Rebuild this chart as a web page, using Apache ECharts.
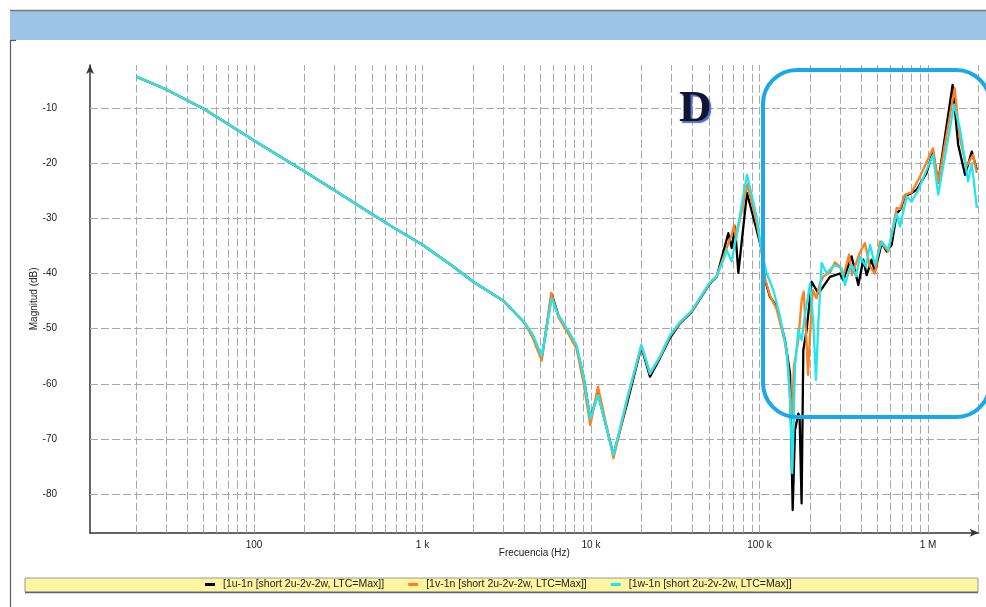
<!DOCTYPE html>
<html>
<head>
<meta charset="utf-8">
<script src="https://cdn.jsdelivr.net/npm/echarts@6/dist/echarts.min.js"></script>
<style>
  html, body { margin: 0; padding: 0; background: #ffffff; }
  #chart { width: 986px; height: 607px; }
</style>
</head>
<body>
<div id="chart"></div>
<script>
// Frequency response magnitude of the three windings (dB vs Hz)
const seriesNames = [
  '[1u-1n [short 2u-2v-2w, LTC=Max]]',
  '[1v-1n [short 2u-2v-2w, LTC=Max]]',
  '[1w-1n [short 2u-2v-2w, LTC=Max]]'
];
const seriesColors = ['#000000', '#ff7f1e', '#22e6ee'];

// Low-frequency part, common to all three traces
const lowFreq = [20, 30, 40, 50, 70, 100, 150, 200, 300, 500, 700, 1000, 1500, 2000, 3000, 4000];
const lowMag  = [-4.3, -6.6, -8.6, -10.1, -12.9, -15.9, -19.2, -21.5, -24.9, -29.2, -32.0, -34.8, -38.6, -41.5, -44.9, -48.8];

// 1u-1n
const freqU = [4500, 5100, 5850, 6400, 7200, 8200, 9000, 9900, 11000, 13600,
  16300, 19900, 22400, 25700, 29400, 33800, 39500, 50800, 55700, 62400,
  65300, 68400, 71600, 74900, 84300, 96200, 103000, 107900, 115400, 126500,
  141700, 151800, 157400, 162500, 170000, 173000, 177800, 182000, 190500, 204000,
  223500, 239000, 262000, 300000, 314000, 352000, 386000, 413000, 433000, 463000,
  484000, 531000, 569000, 609000, 652000, 682000, 731000, 800000, 857000, 980000,
  1070000, 1150000, 1400000, 1510000, 1660000, 1820000, 1950000];
const magU = [-51.2, -55.3, -43.8, -47.6, -50.2, -53.3, -58.5, -66.3, -61.8, -72.9,
  -63.8, -53.3, -58.7, -55.3, -51.7, -49.0, -47.0, -41.8, -40.6, -35.0,
  -32.7, -35.4, -31.5, -39.9, -25.4, -32.1, -35.7, -41.2, -44.2, -46.0,
  -52.1, -58.1, -82.9, -68.4, -65.4, -66.0, -81.7, -53.9, -50.2, -41.5,
  -43.6, -42.4, -40.6, -40.0, -41.2, -36.9, -42.1, -37.5, -40.3, -37.5,
  -39.7, -34.5, -36.0, -34.8, -29.1, -28.5, -26.0, -25.4, -24.8, -21.8,
  -17.9, -23.5, -5.8, -16.6, -22.1, -17.9, -21.2];

// 1v-1n
const freqV = [4500, 5100, 5800, 6400, 7200, 8200, 9000, 9900, 11000, 13600,
  16300, 19900, 22400, 25700, 29400, 33800, 39500, 50800, 55700, 62400,
  65300, 68400, 70800, 72500, 75500, 84800, 96200, 103000, 108000, 115400,
  126500, 141700, 148000, 153000, 156000, 160000, 170000, 178000, 183000, 190000,
  194000, 199000, 207000, 218000, 228000, 240000, 262000, 280000, 300000, 314000,
  340000, 354000, 393000, 423000, 452000, 484000, 519000, 582000, 652000, 682000,
  731000, 800000, 897000, 1070000, 1150000, 1440000, 1540000, 1690000, 1850000, 1950000];
const magV = [-51.6, -55.8, -43.5, -47.9, -50.5, -53.6, -59.6, -67.5, -60.5, -73.5,
  -63.2, -53.0, -58.2, -55.1, -51.4, -48.9, -46.9, -41.7, -40.5, -36.2,
  -34.6, -33.0, -31.2, -33.8, -31.0, -23.8, -30.8, -36.0, -41.0, -44.0,
  -46.5, -52.5, -56.9, -64.2, -66.0, -56.9, -52.1, -44.8, -43.3, -52.1,
  -58.4, -52.0, -43.0, -44.5, -41.8, -40.5, -39.8, -38.0, -38.7, -40.5,
  -36.6, -40.3, -36.3, -34.5, -38.7, -40.0, -34.2, -36.0, -28.1, -28.3,
  -25.7, -25.3, -22.4, -17.3, -23.5, -6.4, -15.2, -20.6, -18.5, -21.8];

// 1w-1n
const freqW = [4500, 5100, 5850, 6400, 7200, 8200, 9000, 9900, 11000, 13600,
  16300, 19900, 22400, 25700, 29400, 33800, 39500, 50800, 55700, 62400,
  63700, 68400, 71600, 84300, 96200, 103000, 110400, 120800, 132400, 145000,
  151800, 156600, 162500, 170000, 178000, 185000, 199500, 208800, 216300, 223500,
  233900, 250500, 262000, 280000, 307000, 321000, 340000, 354000, 374000, 395000,
  428000, 453000, 484000, 531000, 581000, 652000, 682000, 748000, 800000, 877000,
  1070000, 1150000, 1430000, 1550000, 1730000, 1820000, 1950000];
const magW = [-51.0, -55.0, -44.5, -47.6, -50.0, -53.0, -58.3, -66.3, -62.0, -72.9,
  -62.9, -53.0, -58.1, -55.0, -51.2, -48.8, -46.8, -41.6, -40.5, -36.8,
  -35.7, -37.8, -34.5, -22.1, -29.7, -36.0, -40.0, -43.0, -47.8, -53.9,
  -62.9, -76.2, -56.9, -50.2, -52.1, -48.0, -41.8, -49.0, -59.3, -49.0,
  -38.1, -40.0, -39.3, -38.5, -39.0, -42.1, -39.5, -38.5, -40.5, -37.0,
  -38.7, -34.8, -38.4, -34.2, -35.7, -29.1, -31.5, -26.0, -27.0, -24.8,
  -18.5, -25.7, -9.4, -13.9, -23.3, -20.0, -28.1];

// Axis ticks
const yTicks = [-80, -70, -60, -50, -40, -30, -20, -10];
const xDecadeLabels = { 2: '100', 3: '1 k', 4: '10 k', 5: '100 k', 6: '1 M' };

function pairs(f, m) {
  const xs = lowFreq.concat(f);
  const ys = lowMag.concat(m);
  return xs.map((x, i) => [x, ys[i]]);
}

// vertical grid at 2..9 x 10^n inside the plotted band
const xGrid = [];
for (let e = 1; e <= 6; e++) {
  for (let k = 1; k <= 9; k++) {
    const v = k * Math.pow(10, e);
    if (v >= 20 && v <= 2e6) xGrid.push(v);
  }
}

const gridLineStyle = { color: '#a8a8a8', width: 1, type: [8, 3] };
const labelFont = { fontFamily: 'Liberation Sans, Arial, sans-serif', fontSize: 10, color: '#222222' };

const chart = echarts.init(document.getElementById('chart'), null, { renderer: 'canvas' });

const dataSeries = [[freqU, magU], [freqV, magV], [freqW, magW]].map((d, i) => ({
  name: seriesNames[i],
  type: 'line',
  data: pairs(d[0], d[1]),
  showSymbol: false,
  symbol: 'none',
  color: seriesColors[i],
  lineStyle: { width: 2.3, color: seriesColors[i], join: 'round' },
  z: 2 + i,
  silent: true
}));

chart.setOption({
  animation: false,
  backgroundColor: '#ffffff',
  grid: { left: 90, right: 7.3, top: 65, bottom: 74.3, containLabel: false },
  legend: {
    data: seriesNames,
    left: 205,
    top: 579,
    padding: 0,
    icon: 'rect',
    itemWidth: 10,
    itemHeight: 3,
    itemGap: 24,
    textStyle: { fontFamily: 'Liberation Sans, Arial, sans-serif', fontSize: 10.5, color: '#222222', padding: [0, 0, 0, 3] }
  },
  xAxis: {
    type: 'log',
    logBase: 10,
    min: 10.63,
    max: 2e6,
    name: 'Frecuencia (Hz)',
    nameLocation: 'middle',
    nameGap: 16,
    nameMoveOverlap: false,
    nameTextStyle: labelFont,
    axisLine: { show: true, lineStyle: { color: '#333333', width: 1.5 }, symbol: ['none', 'arrow'], symbolSize: [6, 9] },
    axisTick: { show: false },
    splitLine: { show: false },
    minorSplitLine: { show: false },
    axisLabel: Object.assign({
      margin: 8,
      showMinLabel: false,
      showMaxLabel: false,
      formatter: function (v) {
        const e = Math.log10(v);
        const r = Math.round(e);
        if (Math.abs(e - r) > 1e-6) return '';
        return xDecadeLabels[r] || '';
      }
    }, labelFont)
  },
  yAxis: {
    type: 'value',
    min: -87,
    max: -2.2,
    name: 'Magnitud (dB)',
    nameLocation: 'middle',
    nameGap: 51,
    nameRotate: 90,
    nameMoveOverlap: false,
    nameTextStyle: labelFont,
    axisLine: { show: true, lineStyle: { color: '#333333', width: 1.5 }, symbol: ['none', 'arrow'], symbolSize: [6, 9] },
    axisTick: { show: false, customValues: yTicks },
    splitLine: { show: false },
    axisLabel: Object.assign({ margin: 33, customValues: yTicks }, labelFont)
  },
  series: [{
    name: 'grid',
    type: 'line',
    data: [],
    silent: true,
    z: 0,
    markLine: {
      silent: true,
      z: 1,
      symbol: ['none', 'none'],
      animation: false,
      label: { show: false },
      lineStyle: gridLineStyle,
      emphasis: { disabled: true },
      data: xGrid.map(v => ({ xAxis: v })).concat(yTicks.map(v => ({ yAxis: v })))
    }
  }].concat(dataSeries),
  graphic: [
    // title band
    { type: 'rect', z: 50, shape: { x: 10, y: 11, width: 976, height: 29 }, style: { fill: '#9dc3e6' } },
    { type: 'line', z: 51, shape: { x1: 10, y1: 10.5, x2: 986, y2: 10.5 }, style: { stroke: '#7a7a7a', lineWidth: 1.5 } },
    { type: 'line', z: 51, shape: { x1: 10.5, y1: 40, x2: 10.5, y2: 607 }, style: { stroke: '#5a5a5a', lineWidth: 1.2 } },
    { type: 'line', z: 51, shape: { x1: 10, y1: 40.5, x2: 16, y2: 40.5 }, style: { stroke: '#5a5a5a', lineWidth: 1.2 } },
    // legend band
    { type: 'rect', z: -10, shape: { x: 25, y: 578, width: 953, height: 14 }, style: { fill: '#fdf59f', stroke: '#9a9a9a', lineWidth: 1 } },
    { type: 'line', z: -9, shape: { x1: 25, y1: 592.5, x2: 978, y2: 592.5 }, style: { stroke: '#666666', lineWidth: 1.5 } },
    // highlighted high-frequency region
    { type: 'rect', z: 100, shape: { x: 763, y: 70, width: 227, height: 347, r: 34 }, style: { fill: 'none', stroke: '#1aa8e8', lineWidth: 4 } },
    // panel letter
    { type: 'text', z: 100, left: 679, top: 87, style: {
        text: 'D', fill: '#14142e',
        font: 'bold 45px "Liberation Serif", "DejaVu Serif", serif',
        textShadowColor: '#4a6fc8', textShadowOffsetX: 2, textShadowOffsetY: 2, textShadowBlur: 1
      } }
  ]
});
</script>
</body>
</html>
